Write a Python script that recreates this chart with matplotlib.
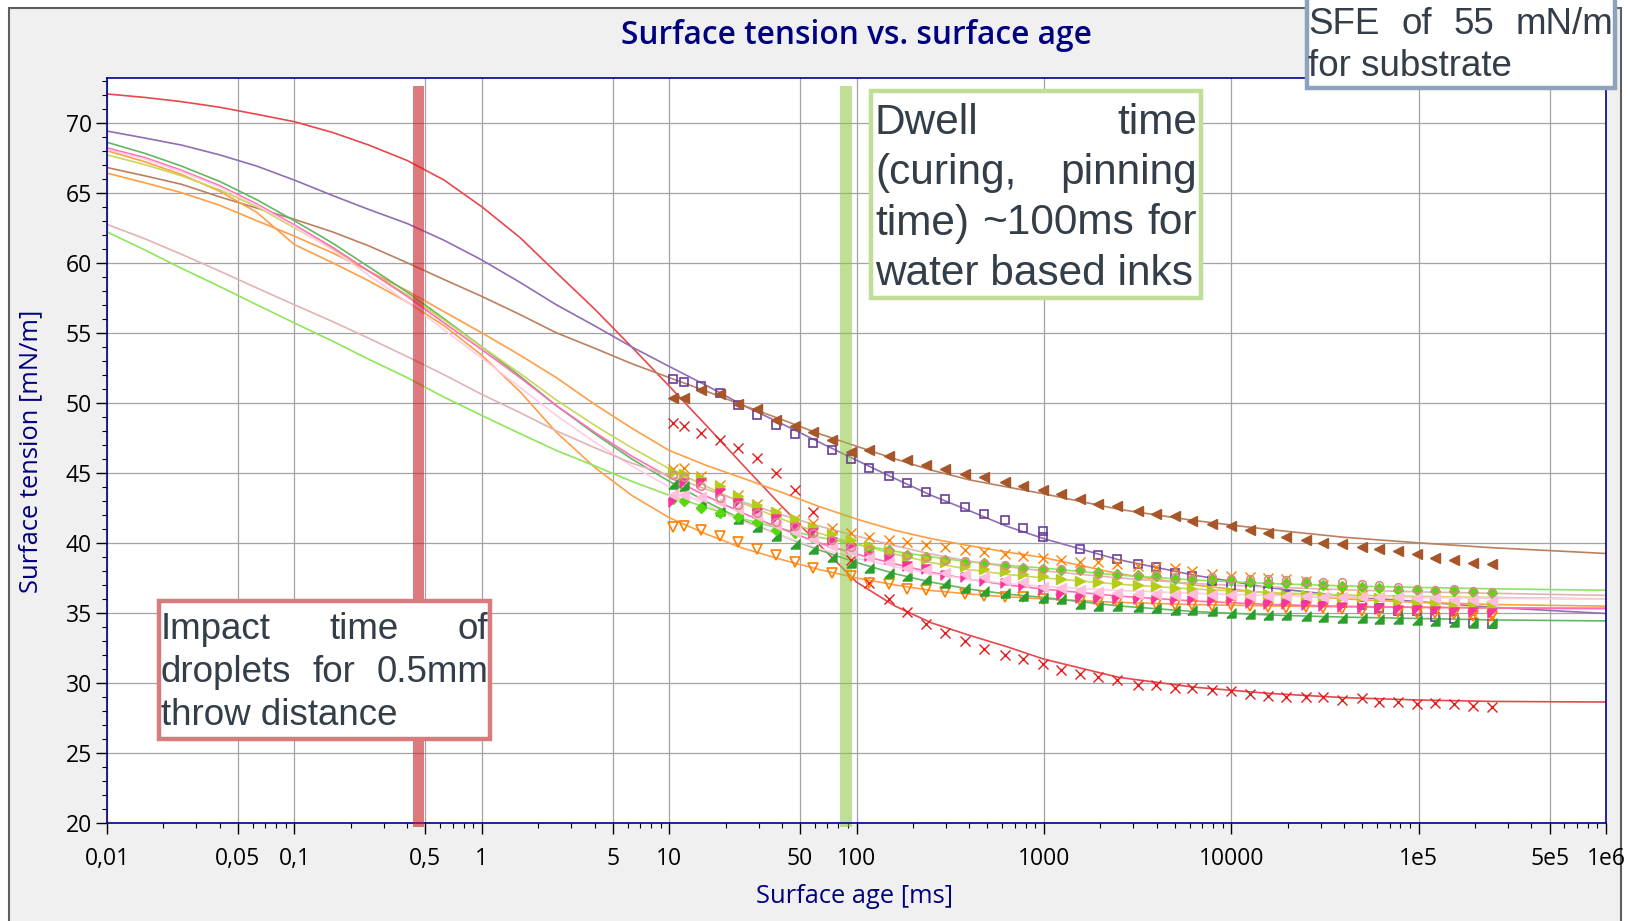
import matplotlib
matplotlib.use('Agg')
import matplotlib.pyplot as plt
import numpy as np
from matplotlib.patches import Rectangle
from matplotlib.ticker import FixedLocator, FixedFormatter, MultipleLocator, NullFormatter

W, H = 1630, 921
nan = float('nan')

# surface ages of the measured points [ms]
age_ms = [10.5, 12, 14.8, 18.6, 23.4, 29.5, 37.2, 46.8, 58.9, 74,
          93, 117, 150, 186, 234, 295, 380, 480, 617, 776,
          990, 1230, 1550, 1950, 2450, 3160, 3980, 5010, 6170, 7940,
          9930, 12600, 15800, 19500, 25100, 30900, 38900, 50100, 61700, 77600,
          97700, 123000, 155000, 195000, 245000]

# measured surface tension [mN/m]
red_pts = [48.57, 48.31, 47.81, 47.34, 46.79, 46.05, 44.98, 43.78, 42.21, 40.5,
           38.8, 37.1, 35.96, 35.03, 34.21, 33.57, 32.96, 32.43, 32.03, 31.69,
           31.38, 30.91, 30.67, 30.39, 30.21, 29.86, 29.86, 29.67, 29.64, 29.48,
           29.41, 29.19, 29.05, 29.0, 29.0, 29.0, 28.81, 28.91, 28.62, 28.62,
           28.53, 28.57, 28.48, 28.38, 28.29]
purple_pts = [51.67, 51.5, 51.19, 50.67, 49.86, 49.12, 48.43, 47.74, 47.12, 46.6,
              45.96, 45.34, 44.79, 44.26, 43.62, 43.12, 42.55, 42.05, 41.6, 41.07,
              40.84, nan, 39.55, 39.14, 38.86, 38.47, 38.29, 37.86, 37.67, 37.31,
              36.91, 36.74, 36.55, 36.31, 36.12, 36.03, 35.69, 35.55, 35.36, 35.14,
              35.14, 34.74, 34.53, 34.31, 34.24]
purple_extra_ms = [990]
purple_extra = [40.43]
brown_pts = [50.34, 50.34, 50.9, 50.6, 49.91, 49.53, 48.76, 48.36, 47.93, 47.34,
             46.48, 46.62, 46.19, 45.9, 45.57, 45.29, 44.93, 44.69, 44.36, 44.05,
             43.76, 43.48, 43.14, 42.74, 42.64, 42.29, 42.05, 41.93, 41.55, 41.34,
             41.19, 40.93, 40.67, 40.41, 40.24, 40.0, 39.91, 39.71, 39.53, 39.43,
             39.17, 38.93, 38.76, 38.57, 38.46]
orange_x_pts = [45.26, 45.38, 44.76, 44.14, 43.43, 42.76, 42.21, 41.69, 41.43, 41.05,
                40.71, 40.43, 40.19, 40.05, 39.84, 39.71, 39.5, 39.36, 39.21, 39.05,
                38.93, 38.81, 38.64, 38.6, 38.48, 38.38, 38.29, 38.21, 38.0, 37.76,
                37.62, 37.57, 37.48, 37.41, 37.26, 36.98, 36.5, 36.26, 36.03, 35.6,
                35.4, 35.2, 35.1, 34.9, 34.7]
orange_v_pts = [41.1, 41.19, 40.95, 40.48, 40.05, 39.53, 39.1, 38.6, 38.24, 37.86,
                37.62, 37.14, 37.03, 36.69, 36.62, 36.48, 36.33, 36.19, 36.1, 36.1,
                35.96, 35.98, 35.86, 35.81, 35.76, 35.7, 35.62, 35.55, 35.55, 35.48,
                35.6, 35.48, 35.43, 35.38, 35.43, 35.38, 35.31, 35.12, 35.07, 35.1,
                35.0, 35.0, 34.9, 34.8, 34.75]
green_pts = [44.17, 44.05, 42.86, 42.31, 41.74, 41.1, 40.5, 39.89, 39.53, 38.98,
             38.53, 38.24, 37.86, 37.64, 37.39, 37.1, 36.81, 36.57, 36.43, 36.24,
             36.05, 35.96, 35.67, 35.5, 35.48, 35.43, 35.38, 35.24, 35.19, 35.12,
             34.96, 34.89, 34.84, 34.84, 34.76, 34.71, 34.67, 34.67, 34.6, 34.6,
             34.48, 34.4, 34.36, 34.3, 34.25]
lime_pts = [43.15, 42.98, 42.5, 42.14, 41.86, 41.5, 40.95, 40.67, 40.38, 40.14,
            39.88, 39.71, 39.48, 39.12, 38.96, 38.76, 38.57, 38.53, 38.34, 38.24,
            38.17, 38.05, 38.05, 37.93, 37.81, 37.68, 37.62, 37.45, 37.38, 37.33,
            37.33, 37.21, 37.17, 37.14, 37.1, 36.98, 36.91, 36.86, 36.81, 36.67,
            36.62, 36.57, 36.57, 36.46, 36.39]
olive_pts = [45.07, 44.95, 44.6, 44.05, 43.35, 42.69, 42.21, 41.67, 41.1, 40.62,
             40.24, 39.76, 39.45, 38.96, 38.84, 38.64, 38.34, 38.17, 38.0, 37.81,
             37.64, 37.41, 37.29, 37.21, 37.1, 37.0, 36.91, 36.81, 36.74, 36.57,
             36.5, 36.45, 36.33, 36.31, 36.26, 36.19, 36.14, 36.1, 36.07, 35.9,
             35.79, 35.71, 35.67, 35.62, 35.48]
pink_pts = [42.93, 44.24, 44.24, 43.53, 42.88, 42.15, 41.67, 41.08, 40.67, 40.07,
            39.62, 39.05, 38.82, 38.34, 38.1, 37.69, 37.53, 37.26, 37.1, 36.91,
            36.62, 36.31, 36.03, 35.96, 35.96, 35.96, 35.96, 35.91, 35.91, 35.84,
            35.91, 35.71, 35.67, 35.62, 35.55, 35.48, 35.43, 35.38, 35.31, 35.19,
            35.19, 35.15, 35.1, 35.07, 34.96]
lightpink_pts = [43.41, 43.41, 43.3, 42.9, 42.4, 41.9, 41.3, 40.8, 40.3, 39.8,
                 39.4, 39.0, 38.64, 38.24, 38.05, 37.86, 37.76, 37.53, 37.33, 37.21,
                 36.86, 36.81, 36.62, 36.5, 36.43, 36.38, 36.38, 36.31, 36.33, 36.26,
                 36.28, 36.21, 36.24, 36.19, 36.2, 36.14, 36.17, 36.12, 36.14, 36.14,
                 36.03, 36.03, 35.9, 35.9, 35.86]
rose_pts = [44.84, 44.67, 44.05, 43.17, 42.69, 42.1, 41.5, 41.19, 40.67, 40.19,
            39.71, 39.48, 39.41, 39.1, 38.96, 38.81, 38.69, 38.57, 38.41, 38.24,
            38.17, 38.1, 38.05, 37.81, 37.69, 37.65, 37.69, 37.53, 37.45, 37.53,
            37.45, 37.41, 37.41, 37.33, 37.29, 37.21, 37.21, 37.05, 36.98, 36.86,
            36.74, 36.67, 36.74, 36.55, 36.48]

# fitted curves, read at these ages [ms]
fit_ms = [0.01, 0.016, 0.025, 0.04, 0.063, 0.1, 0.16, 0.25, 0.4, 0.63,
          1, 1.6, 2.5, 4, 6.3, 10, 16, 25, 40, 63,
          100, 160, 250, 400, 630, 1000, 2500, 6300, 16000, 40000,
          1e5, 2.5e5, 6.3e5, 1e6]
red_fit = [72.05, 71.8, 71.5, 71.1, 70.6, 70.07, 69.3, 68.4, 67.3, 65.9,
           64.0, 61.8, 59.3, 56.7, 54.0, 51.2, 48.3, 45.5, 42.6, 39.9,
           37.2, 35.5, 34.3, 33.4, 32.6, 31.7, 30.4, 29.7, 29.25, 28.95,
           28.78, 28.68, 28.65, 28.64]
purple_fit = [69.4, 68.9, 68.4, 67.7, 66.9, 65.9, 64.8, 63.8, 62.8, 61.6,
              60.2, 58.6, 57.0, 55.5, 54.0, 52.6, 51.2, 49.8, 48.5, 47.2,
              45.9, 44.6, 43.4, 42.3, 41.2, 40.3, 38.8, 37.7, 36.8, 36.2,
              35.8, 35.4, 35.1, 34.96]
brown_fit = [66.8, 66.2, 65.6, 64.7, 63.9, 63.1, 62.2, 61.2, 60.0, 58.8,
             57.6, 56.3, 55.0, 53.9, 52.8, 51.8, 50.8, 49.8, 48.8, 47.8,
             46.9, 46.0, 45.2, 44.5, 44.0, 43.5, 42.4, 41.6, 40.95, 40.4,
             40.0, 39.65, 39.38, 39.24]
orange_x_fit = [66.4, 65.7, 65.0, 64.1, 63.0, 61.9, 60.7, 59.4, 58.0, 56.5,
                55.0, 53.4, 51.8, 49.9, 48.2, 46.6, 45.5, 44.6, 43.6, 42.6,
                41.7, 40.9, 40.3, 39.8, 39.35, 38.95, 37.8, 37.0, 36.4, 36.0,
                35.75, 35.6, 35.52, 35.48]
orange_v_fit = [68.0, 67.2, 66.3, 65.1, 63.6, 61.3, 60.0, 58.7, 57.2, 55.5,
                53.4, 50.8, 47.9, 45.4, 43.4, 41.8, 40.6, 39.6, 38.8, 38.1,
                37.5, 37.0, 36.6, 36.35, 36.15, 36.0, 35.75, 35.6, 35.5, 35.43,
                35.4, 35.37, 35.35, 35.35]
green_fit = [68.6, 67.8, 66.9, 65.8, 64.5, 63.0, 61.4, 59.7, 57.9, 56.0,
             54.0, 51.9, 49.8, 47.8, 46.0, 44.4, 42.9, 41.6, 40.5, 39.5,
             38.6, 37.8, 37.2, 36.7, 36.35, 36.1, 35.5, 35.1, 34.85, 34.7,
             34.6, 34.5, 34.45, 34.43]
lime_fit = [62.2, 60.9, 59.6, 58.3, 57.0, 55.7, 54.4, 53.1, 51.8, 50.4,
            49.1, 47.8, 46.6, 45.5, 44.4, 43.4, 42.5, 41.7, 41.0, 40.4,
            39.9, 39.4, 39.0, 38.65, 38.4, 38.2, 37.7, 37.35, 37.1, 36.93,
            36.82, 36.72, 36.65, 36.62]
olive_fit = [67.7, 67.0, 66.2, 65.2, 64.0, 62.5, 61.0, 59.4, 57.7, 55.9,
             54.0, 52.1, 50.2, 48.4, 46.8, 45.3, 44.0, 42.8, 41.7, 40.7,
             39.9, 39.2, 38.6, 38.1, 37.75, 37.5, 37.05, 36.7, 36.45, 36.28,
             36.18, 36.1, 36.03, 36.0]
pink_fit = [68.2, 67.5, 66.6, 65.5, 64.2, 62.7, 61.1, 59.4, 57.6, 55.7,
            53.8, 51.8, 49.8, 47.9, 46.2, 44.7, 43.3, 42.1, 41.0, 40.0,
            39.2, 38.5, 37.9, 37.4, 37.0, 36.7, 36.2, 35.85, 35.6, 35.47,
            35.4, 35.35, 35.31, 35.3]
lightpink_fit = [68.1, 67.4, 66.5, 65.4, 64.1, 62.6, 60.9, 59.1, 57.2, 55.2,
                 53.2, 51.1, 49.1, 47.2, 45.5, 44.0, 42.7, 41.5, 40.5, 39.6,
                 38.9, 38.3, 37.8, 37.4, 37.1, 36.9, 36.6, 36.4, 36.25, 36.15,
                 36.1, 36.04, 36.0, 35.98]
rose_fit = [62.74, 61.7, 60.6, 59.4, 58.2, 57.0, 55.8, 54.6, 53.3, 52.0,
            50.6, 49.3, 48.0, 46.8, 45.7, 44.8, 43.8, 42.9, 42.0, 41.2,
            40.5, 39.8, 39.2, 38.7, 38.3, 38.0, 37.5, 37.1, 36.85, 36.65,
            36.5, 36.4, 36.3, 36.25]

xtick_vals = [0.01, 0.05, 0.1, 0.5, 1, 5, 10, 50, 100, 1000, 10000, 1e5, 5e5, 1e6]
xtick_text = ['0,01', '0,05', '0,1', '0,5', '1', '5', '10', '50', '100', '1000', '10000',
              '1e5', '5e5', '1e6']

plt.rcParams['font.family'] = ['Open Sans', 'DejaVu Sans']

fig = plt.figure(figsize=(W / 100, H / 100), dpi=100)
fig.patch.set_facecolor('white')

def px_rect(x0, y0, x1, y1, **kw):
    # rectangle given in image pixels (y down)
    return Rectangle((x0 / W, 1 - y1 / H), (x1 - x0) / W, (y1 - y0) / H,
                     transform=fig.transFigure, **kw)

# grey window frame
fig.add_artist(px_rect(9, 8, 1621, 940, facecolor='#f0f0f0', edgecolor='#5f5f5f', lw=1.5, zorder=-5))

ax = fig.add_axes([107 / W, 1 - 823 / H, (1606 - 107) / W, (823 - 78) / H])
ax.set_facecolor('white')
ax.set_xscale('log')
ax.set_xlim(0.01, 1e6)
ax.set_ylim(20, 73.19)

ax.xaxis.set_major_locator(FixedLocator(xtick_vals))
ax.xaxis.set_major_formatter(FixedFormatter(xtick_text))
minors = []
for e in range(-2, 6):
    for k in range(2, 10):
        v = k * 10.0 ** e
        if not np.any(np.isclose(v, xtick_vals)):
            minors.append(v)
ax.xaxis.set_minor_locator(FixedLocator(minors))
ax.xaxis.set_minor_formatter(NullFormatter())
ax.yaxis.set_major_locator(FixedLocator(range(20, 75, 5)))
ax.yaxis.set_minor_locator(MultipleLocator(1))

ax.tick_params(which='major', direction='out', length=8, width=1, color='black',
               labelsize=16.5, labelcolor='black')
ax.tick_params(axis='x', which='major', pad=9)
ax.tick_params(axis='y', which='major', pad=3)
ax.tick_params(which='minor', direction='out', length=3.5, width=0.8, color='black')
for s in ax.spines.values():
    s.set_color('#00008b')
    s.set_linewidth(1.2)
ax.grid(True, which='major', color='#a3a3a3', lw=0.9)
ax.set_axisbelow(True)

# right-angle triangle markers
tri_br = [(-1, -1), (1, -1), (1, 1), (-1, -1)]
tri_tl = [(-1, 1), (1, 1), (-1, -1), (-1, 1)]

series = [
    (red_fit, red_pts, '#e41a1c', '#e8474b', 'x', True, 6.5),
    (purple_fit, purple_pts, '#6a3d9a', '#8f6eb3', 's', False, 6),
    (brown_fit, brown_pts, '#a65628', '#bc805e', '<', True, 7),
    (orange_x_fit, orange_x_pts, '#ff7f00', '#ff9f45', 'x', True, 6.5),
    (orange_v_fit, orange_v_pts, '#ff7f00', '#ff9f45', 'v', False, 7),
    (green_fit, green_pts, '#2ca02c', '#62b862', tri_br, True, 6.5),
    (lime_fit, lime_pts, '#55d80f', '#8ee65a', 'D', True, 5),
    (olive_fit, olive_pts, '#b5cc18', '#c8d75a', '>', True, 7),
    (pink_fit, pink_pts, '#f8339a', '#ff6fb6', tri_tl, True, 6.5),
    (lightpink_fit, lightpink_pts, '#ffbedb', '#ffcde4', '<', True, 7),
    (rose_fit, rose_pts, '#d98a8a', '#e2b3b3', 'o', False, 5.5),
]

for fy, pts, mc, lc, mk, filled, ms in series:
    ax.plot(fit_ms, fy, color=lc, lw=1.2, zorder=2)

for fy, pts, mc, lc, mk, filled, ms in series:
    if filled:
        ax.plot(age_ms, pts, ls='none', marker=mk, ms=ms, color=mc, mec=mc, mew=1.0, zorder=3)
    else:
        ax.plot(age_ms, pts, ls='none', marker=mk, ms=ms, mfc='none', mec=mc, mew=1.2, zorder=3)
ax.plot(purple_extra_ms, purple_extra, ls='none', marker='s', ms=6, mfc='none', mec='#6a3d9a',
        mew=1.2, zorder=3)

# highlighted time windows
ax.add_patch(Rectangle((0.4276, 19.75), 0.492 - 0.4276, 72.62 - 19.75, facecolor='#c8202a',
                       alpha=0.6, lw=0, clip_on=False, zorder=4))
ax.add_patch(Rectangle((81.5, 19.75), 95.0 - 81.5, 72.62 - 19.75, facecolor='#8cc63f',
                       alpha=0.55, lw=0, clip_on=False, zorder=2.5))

# title and axis labels
fig.text(856 / W, 1 - 35 / H, 'Surface tension vs. surface age', ha='center', va='center',
         fontsize=22.8, fontweight='semibold', color='#000080')
fig.text(855 / W, 1 - 896 / H, 'Surface age [ms]', ha='center', va='center', fontsize=18.4,
         color='#000080')
fig.text(31 / W, 1 - 451 / H, 'Surface tension [mN/m]', ha='center', va='center', fontsize=18.4,
         rotation=90, color='#000080')

# annotation boxes with justified text
renderer = fig.canvas.get_renderer()
box_font = ['Liberation Sans', 'DejaVu Sans']
text_col = '#333e48'

def justified(lines, x0, x1, baselines, size):
    for i, (line, yb) in enumerate(zip(lines, baselines)):
        words = line.split()
        if i == len(lines) - 1 or len(words) == 1:
            fig.text(x0 / W, 1 - yb / H, line, ha='left', va='baseline', fontsize=size,
                     family=box_font, color=text_col, zorder=11)
            continue
        widths = []
        for w in words:
            t = fig.text(0, 0, w, fontsize=size, family=box_font)
            widths.append(t.get_window_extent(renderer).width)
            t.remove()
        gap = (x1 - x0 - sum(widths)) / (len(words) - 1)
        x = x0
        for w, wd in zip(words, widths):
            fig.text(x / W, 1 - yb / H, w, ha='left', va='baseline', fontsize=size,
                     family=box_font, color=text_col, zorder=11)
            x += wd + gap

fig.add_artist(px_rect(159, 601, 489.5, 739, facecolor='white', edgecolor='#d97a7e', lw=3.2,
                       zorder=10))
justified(['Impact time of', 'droplets for 0.5mm', 'throw distance'], 161, 488,
          [639, 682, 725], 26.5)

fig.add_artist(px_rect(871, 91, 1200.5, 298.5, facecolor='white', edgecolor='#c0de98', lw=3.2,
                       zorder=10))
justified(['Dwell time', '(curing, pinning', 'time) ~100ms for', 'water based inks'], 875, 1197,
          [133.5, 184, 234.5, 285], 30.5)

fig.add_artist(px_rect(1306.5, -10, 1615, 88, facecolor='white', edgecolor='#8da3bd', lw=3.2,
                       zorder=10))
justified(['SFE of 55 mN/m', 'for substrate'], 1308, 1613.5, [33.5, 76], 26.5)

fig.savefig('out.png', dpi=100, facecolor=fig.get_facecolor())
